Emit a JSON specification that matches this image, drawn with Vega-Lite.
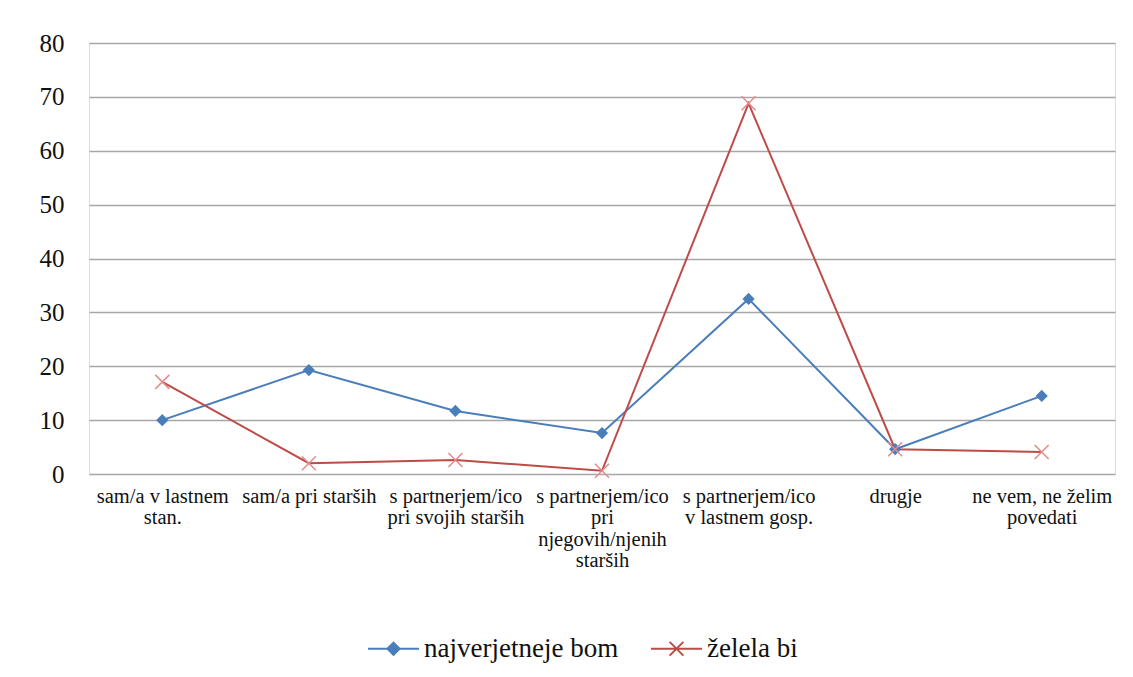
{
  "$schema": "https://vega.github.io/schema/vega-lite/v6.json",
  "autosize": "none",
  "width": 1026,
  "height": 431,
  "padding": {"left": 89, "top": 43, "right": 18, "bottom": 203},
  "background": "white",
  "data": {
    "values": [
      {"kat": "sam/a v lastnem|stan.", "serija": "najverjetneje bom", "vrednost": 10.0},
      {"kat": "sam/a pri starših", "serija": "najverjetneje bom", "vrednost": 19.3},
      {"kat": "s partnerjem/ico|pri svojih starših", "serija": "najverjetneje bom", "vrednost": 11.7},
      {"kat": "s partnerjem/ico|pri|njegovih/njenih|starših", "serija": "najverjetneje bom", "vrednost": 7.6},
      {"kat": "s partnerjem/ico|v lastnem gosp.", "serija": "najverjetneje bom", "vrednost": 32.5},
      {"kat": "drugje", "serija": "najverjetneje bom", "vrednost": 4.6},
      {"kat": "ne vem, ne želim|povedati", "serija": "najverjetneje bom", "vrednost": 14.5},
      {"kat": "sam/a v lastnem|stan.", "serija": "želela bi", "vrednost": 17.1},
      {"kat": "sam/a pri starših", "serija": "želela bi", "vrednost": 2.0},
      {"kat": "s partnerjem/ico|pri svojih starših", "serija": "želela bi", "vrednost": 2.6},
      {"kat": "s partnerjem/ico|pri|njegovih/njenih|starših", "serija": "želela bi", "vrednost": 0.6},
      {"kat": "s partnerjem/ico|v lastnem gosp.", "serija": "želela bi", "vrednost": 68.8},
      {"kat": "drugje", "serija": "želela bi", "vrednost": 4.6},
      {"kat": "ne vem, ne želim|povedati", "serija": "želela bi", "vrednost": 4.1}
    ]
  },
  "config": {
    "font": "Liberation Serif"
  },
  "encoding": {
    "x": {
      "field": "kat",
      "type": "nominal",
      "sort": null,
      "scale": {"paddingInner": 0, "paddingOuter": 0.5},
      "axis": {
        "title": null,
        "labelAngle": 0,
        "labelExpr": "split(datum.label, '|')",
        "labelFont": "Liberation Serif",
        "labelFontSize": 20.5,
        "labelLineHeight": 21.5,
        "labelColor": "#111",
        "labelLimit": 0,
        "labelOverlap": false,
        "labelBound": false,
        "labelPadding": 12,
        "ticks": false,
        "domain": false,
        "grid": false
      }
    },
    "y": {
      "field": "vrednost",
      "type": "quantitative",
      "scale": {"domain": [0, 80], "nice": false},
      "axis": {
        "title": null,
        "values": [0, 10, 20, 30, 40, 50, 60, 70, 80],
        "labelFont": "Liberation Serif",
        "labelFontSize": 25,
        "labelColor": "#111",
        "labelPadding": 25,
        "ticks": false,
        "domain": false,
        "grid": true,
        "gridColor": "#a6a6a6",
        "gridWidth": 1.5
      }
    },
    "color": {
      "field": "serija",
      "type": "nominal",
      "scale": {"domain": ["najverjetneje bom", "želela bi"], "range": ["#4a7ebb", "#be4b48"]}
    }
  },
  "layer": [
    {
      "mark": {"type": "line", "strokeWidth": 2},
      "encoding": {
        "color": {
          "field": "serija",
          "type": "nominal",
          "scale": {"domain": ["najverjetneje bom", "želela bi"], "range": ["#4a7ebb", "#be4b48"]},
          "legend": {
            "title": null,
            "orient": "none",
            "direction": "horizontal",
            "legendX": 278,
            "legendY": 579,
            "padding": 0,
            "labelFont": "Liberation Serif",
            "labelFontSize": 27,
            "labelLimit": 500,
            "labelColor": "#111",
            "labelOffset": 4,
            "columnPadding": 28,
            "symbolSize": 2601,
            "symbolStrokeWidth": 2,
            "encode": {
              "symbols": {
                "update": {
                  "shape": {"signal": "datum.value === 'najverjetneje bom' ? 'M-1,0L1,0M0,-0.24L0.24,0L0,0.24L-0.24,0Z' : 'M-1,0L1,0M-0.27,-0.27L0.27,0.27M-0.27,0.27L0.27,-0.27'"},
                  "fill": {"signal": "datum.value === 'najverjetneje bom' ? '#4a7ebb' : 'transparent'"},
                  "fillOpacity": {"value": 1},
                  "strokeWidth": {"value": 2}
                }
              }
            }
          }
        }
      }
    },
    {
      "transform": [{"filter": "datum.serija === 'najverjetneje bom'"}],
      "mark": {"type": "point", "shape": "diamond", "filled": true, "size": 150, "opacity": 1},
      "encoding": {"color": {"value": "#4a7ebb"}}
    },
    {
      "transform": [{"filter": "datum.serija === 'želela bi'"}],
      "mark": {"type": "point", "shape": "M-1,-1L1,1M-1,1L1,-1", "filled": false, "size": 196, "strokeWidth": 1.5, "opacity": 1},
      "encoding": {"color": {"value": "#e08c8a"}}
    }
  ]
}
